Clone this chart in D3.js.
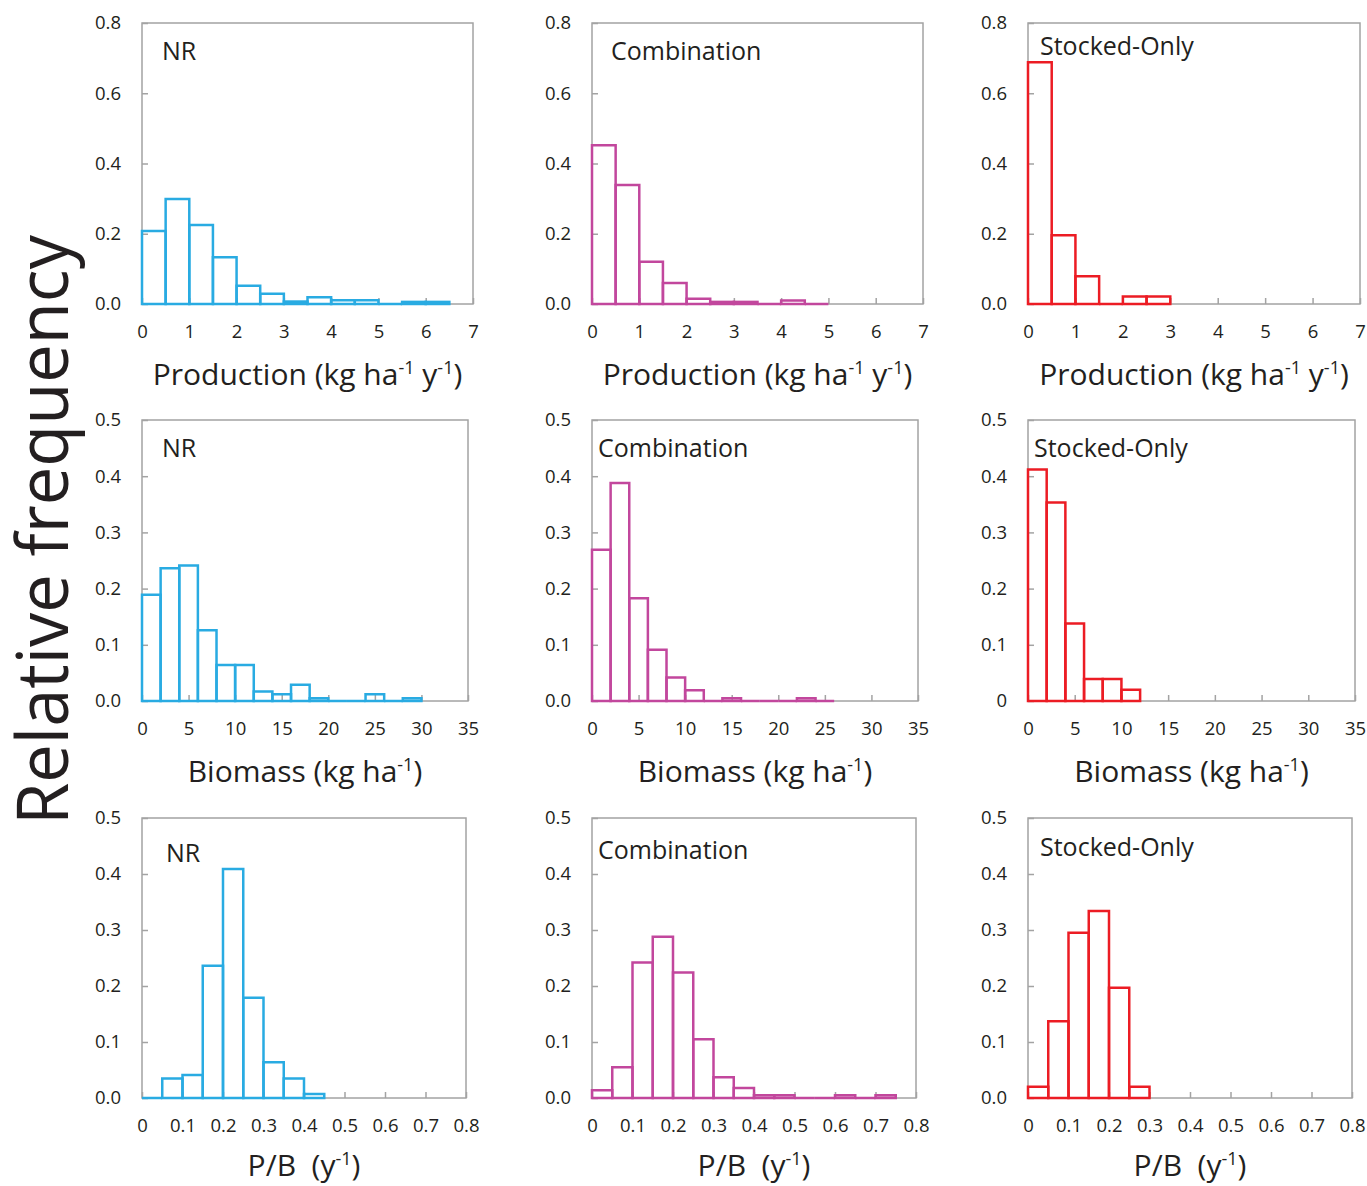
<!DOCTYPE html>
<html><head><meta charset="utf-8">
<script src="https://cdn.jsdelivr.net/npm/d3@7"></script>
<style>
body{margin:0;background:#fff;}
text{font-family:"Open Sans","Noto Sans",sans-serif;fill:#231f20;}
</style></head>
<body><svg id="c" width="1367" height="1186"></svg>
<script>
// ---- data ----
const groups = ["NR", "Combination", "Stocked-Only"];
const groupColors = ["#29abe2", "#c2479d", "#ec1c24"];
const rowNames = ["Production", "Biomass", "P/B"];
const binWidths = [0.5, 2, 0.05];
const xDomains = [[0, 7], [0, 35], [0, 0.8]];
const yDomains = [[0, 0.8], [0, 0.5], [0, 0.5]];
const xTicks = [[0,1,2,3,4,5,6,7],[0,5,10,15,20,25,30,35],[0,0.1,0.2,0.3,0.4,0.5,0.6,0.7,0.8]];
const yTicks = [[0,0.2,0.4,0.6,0.8],[0,0.1,0.2,0.3,0.4,0.5],[0,0.1,0.2,0.3,0.4,0.5]];

const prodNR    = [0.208,0.299,0.225,0.133,0.052,0.029,0.007,0.019,0.011,0.011,0,0.006,0.006];
const prodComb  = [0.452,0.339,0.120,0.060,0.015,0.006,0.006,0,0.010,0];
const prodStock = [0.688,0.196,0.079,0,0.021,0.021];
const bioNR     = [0.189,0.236,0.241,0.126,0.064,0.064,0.017,0.012,0.029,0.005,0,0,0.012,0,0.005];
const bioComb   = [0.269,0.388,0.183,0.091,0.042,0.019,0,0.005,0,0,0,0.005,0];
const bioStock  = [0.412,0.353,0.138,0.039,0.039,0.020];
const pbNR      = [0,0.035,0.041,0.236,0.409,0.179,0.064,0.035,0.007];
const pbComb    = [0.014,0.055,0.242,0.288,0.224,0.105,0.037,0.018,0.005,0.005,0,0,0.005,0,0.005];
const pbStock   = [0.020,0.137,0.295,0.334,0.197,0.020];

const series = [[prodNR, prodComb, prodStock],[bioNR, bioComb, bioStock],[pbNR, pbComb, pbStock]];

// ---- layout ----
const svg = d3.select("#c");
const colLeft = [142, 592, 1028];
const rowTop = [23, 420, 818], rowBottom = [304, 701, 1098];
const widths = [[331, 331, 332],[326, 326, 327],[324, 324, 324]];
const titleOffset = [81, 81, 78];
const labelPos = [
  [[162, 60],[611, 60],[1040, 55]],
  [[162, 457],[598, 457],[1034, 457]],
  [[166, 862],[598, 859],[1040, 856]]
];

function titleText(sel, r) {
  sel.style("white-space", "pre");
  const sup = (t) => sel.append("tspan").attr("font-size", 18).attr("dy", -11).text(t);
  const base = (t) => sel.append("tspan").attr("dy", 11).text(t);
  if (r === 0) {
    sel.append("tspan").text("Production (kg ha");
    sup("-1"); base(" y"); sup("-1"); base(")");
  } else if (r === 1) {
    sel.append("tspan").text("Biomass (kg ha");
    sup("-1"); base(")");
  } else {
    sel.append("tspan").text("P/B  (y");
    sup("-1"); base(")");
  }
}

for (let r = 0; r < 3; r++) {
  for (let c = 0; c < 3; c++) {
    const x0 = colLeft[c], w = widths[r][c];
    const y0 = rowTop[r], y1 = rowBottom[r];
    const x = d3.scaleLinear().domain(xDomains[r]).range([x0, x0 + w]);
    const y = d3.scaleLinear().domain(yDomains[r]).range([y1, y0]);
    const g = svg.append("g");

    // frame
    g.append("rect").attr("x", x0).attr("y", y0).attr("width", w).attr("height", y1 - y0)
      .attr("fill", "none").attr("stroke", "#a3a3a3").attr("stroke-width", 1.5);

    // axes (ticks inside)
    const yFmt = (d) => (d === 0 && r === 1 && c === 2) ? "0" : d3.format(".1f")(d);
    const xFmt = (d) => d === 0 ? "0" : (r === 2 ? d3.format(".1f")(d) : String(d));
    const ya = g.append("g").attr("transform", `translate(${x0},0)`)
      .call(d3.axisRight(y).tickValues(yTicks[r]).tickSize(6).tickFormat(yFmt));
    ya.select(".domain").remove();
    ya.selectAll("line").attr("stroke", "#a3a3a3").attr("stroke-width", 1.5);
    ya.selectAll("text").attr("text-anchor", "end").attr("x", -21).attr("font-size", 18.5)
      .attr("fill", "#231f20").attr("font-family", "'Open Sans',sans-serif");

    const xa = g.append("g").attr("transform", `translate(0,${y1})`)
      .call(d3.axisTop(x).tickValues(xTicks[r]).tickSize(6).tickFormat(xFmt));
    xa.select(".domain").remove();
    xa.selectAll("line").attr("stroke", "#a3a3a3").attr("stroke-width", 1.5);
    xa.selectAll("text").attr("y", 28).attr("dy", "0.35em").attr("font-size", 18.5)
      .attr("fill", "#231f20").attr("font-family", "'Open Sans',sans-serif");

    // bars (paths so zero-height bins still show as a line on the baseline)
    const vals = series[r][c];
    const bw = binWidths[r];
    g.append("g").selectAll("path").data(vals).join("path")
      .attr("d", (d, i) => {
        const p = d3.path();
        const xa0 = x(i * bw), xa1 = x((i + 1) * bw), yt = y(d), yb = y(0);
        p.moveTo(xa0, yb); p.lineTo(xa0, yt); p.lineTo(xa1, yt); p.lineTo(xa1, yb); p.closePath();
        return p.toString();
      })
      .attr("fill", "none")
      .attr("stroke", groupColors[c])
      .attr("stroke-width", 2.5);

    // panel label
    g.append("text").attr("x", labelPos[r][c][0]).attr("y", labelPos[r][c][1])
      .attr("font-size", 25).text(groups[c]);

    // axis title
    const t = g.append("text").attr("x", x0 + w / 2).attr("y", y1 + titleOffset[r])
      .attr("text-anchor", "middle").attr("font-size", 30);
    titleText(t, r);
  }
}

// big y label
svg.append("text")
  .attr("transform", "translate(68,530) rotate(-90)")
  .attr("text-anchor", "middle")
  .attr("font-size", 72)
  .attr("textLength", 590).attr("lengthAdjust", "spacingAndGlyphs")
  .text("Relative frequency");
</script>
</body></html>
